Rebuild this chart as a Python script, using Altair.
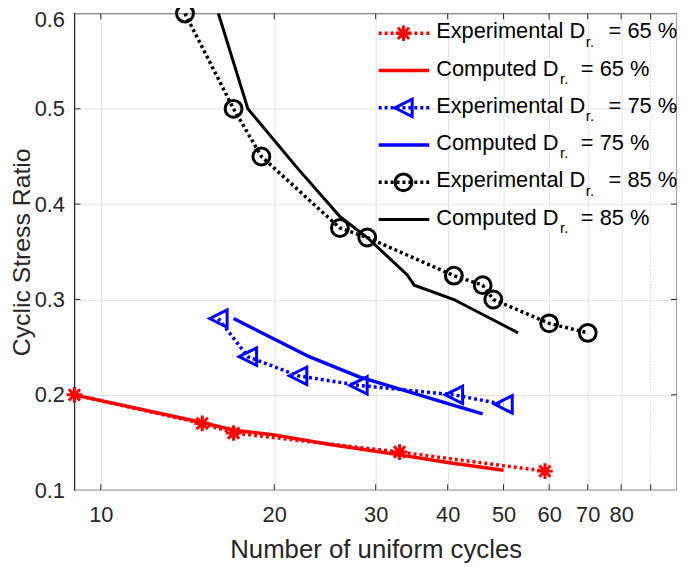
import altair as alt
import pandas as pd

# ---------------- data ----------------
exp65_n = [9, 15, 17, 33, 59]
exp65_csr = [0.20, 0.17, 0.16, 0.14, 0.12]
comp65_n = [9, 15, 17, 20, 25, 33, 40, 50]
comp65_csr = [0.200, 0.171, 0.163, 0.158, 0.148, 0.137, 0.129, 0.121]

exp75_n = [16, 18, 22, 28, 41, 50]
exp75_csr = [0.28, 0.24, 0.22, 0.21, 0.20, 0.19]
comp75_n = [17, 23, 28, 41, 46]
comp75_csr = [0.28, 0.24, 0.219, 0.189, 0.18]

exp85_n = [14, 17, 19, 26, 29, 41, 46, 48, 60, 70]
exp85_csr = [0.60, 0.50, 0.45, 0.375, 0.365, 0.325, 0.315, 0.30, 0.275, 0.265]
comp85_n = [16, 18, 22, 26, 29, 34, 35, 41, 53]
comp85_csr = [0.60, 0.50, 0.437, 0.387, 0.365, 0.326, 0.315, 0.300, 0.265]

x_ticks = [10, 20, 30, 40, 50, 60, 70, 80]
x_minor = [90]
y_ticks = [0.1, 0.2, 0.3, 0.4, 0.5, 0.6]
y_inner_ticks = [0.2, 0.3, 0.4, 0.5]

legend_main = ["Experimental D", "Computed D", "Experimental D",
               "Computed D", "Experimental D", "Computed D"]
legend_sub = "r."
legend_tail = ["= 65 %", "= 65 %", "= 75 %", "= 75 %", "= 85 %", "= 85 %"]

# ---------------- styling ----------------
FONT = "Liberation Sans"
INK = "#262626"
W, H = 608, 481
RED, BLUE, BLACK = "#ff0000", "#0000ff", "#000000"
STAR = "M0,-1L0,1M-1,0L1,0M-0.72,-0.72L0.72,0.72M-0.72,0.72L0.72,-0.72"
TRI_LEFT = "M-1,0L1,-1L1,1Z"

xscale = alt.Scale(type="log", domain=[9, 100], nice=False)
yscale = alt.Scale(domain=[0.1, 0.6], nice=False, zero=False)


def xenc(field):
    return alt.X(f"{field}:Q", scale=xscale,
                 axis=alt.Axis(values=x_ticks, format="d",
                               title="Number of uniform cycles",
                               grid=True, ticks=False, domain=False,
                               labelPadding=15, titlePadding=11))


def yenc(field):
    return alt.Y(f"{field}:Q", scale=yscale,
                 axis=alt.Axis(values=y_ticks, format=".1f",
                               title="Cyclic Stress Ratio", titleFontSize=25,
                               grid=True, ticks=False, domain=False,
                               labelPadding=10, titlePadding=0,
                               labelOffset={"condition": {"test": "datum.value >= 0.59", "value": 6},
                                            "value": 0}))


layers = []

# dotted minor grid line at 90
layers.append(alt.Chart(pd.DataFrame({"t": x_minor})).mark_rule(
    color="#c8c8c8", strokeDash=[1, 2], strokeWidth=1).encode(x=xenc("t")))

# inward tick marks on all four sides
xt = pd.DataFrame({"t": x_ticks + x_minor})
yt = pd.DataFrame({"t": y_inner_ticks})
layers.append(alt.Chart(xt).mark_rule(color=INK, strokeWidth=1).encode(
    x=xenc("t"), y=alt.value(H), y2=alt.value(H - 6)))
layers.append(alt.Chart(xt).mark_rule(color=INK, strokeWidth=1).encode(
    x=xenc("t"), y=alt.value(0), y2=alt.value(6)))
layers.append(alt.Chart(yt).mark_rule(color=INK, strokeWidth=1).encode(
    y=yenc("t"), x=alt.value(0), x2=alt.value(6)))
layers.append(alt.Chart(yt).mark_rule(color=INK, strokeWidth=1).encode(
    y=yenc("t"), x=alt.value(W), x2=alt.value(W - 6)))

series = [
    # (n, csr, color, dotted?, width, shape, size)
    (exp65_n, exp65_csr, RED, True, 3.5, STAR, 250),
    (comp65_n, comp65_csr, RED, False, 3.5, None, 0),
    (exp75_n, exp75_csr, BLUE, True, 3.5, TRI_LEFT, 310),
    (comp75_n, comp75_csr, BLUE, False, 3.5, None, 0),
    (exp85_n, exp85_csr, BLACK, True, 3.5, "circle", 290),
    (comp85_n, comp85_csr, BLACK, False, 3, None, 0),
]

for n, v, col, dotted, sw, shape, size in series:
    df = pd.DataFrame({"n": n, "csr": v})
    kw = dict(color=col, strokeWidth=sw, strokeCap="butt")
    if dotted:
        kw["strokeDash"] = [3, 3]
    layers.append(alt.Chart(df).mark_line(**kw).encode(
        x=xenc("n"), y=yenc("csr"), order=alt.Order("n:Q")))
    if shape:
        layers.append(alt.Chart(df).mark_point(
            shape=shape, size=size, filled=False, strokeWidth=3,
            color=col, opacity=1).encode(x=xenc("n"), y=yenc("csr")))

# ---------------- manual legend (subscripted D_r.) ----------------
dummy = pd.DataFrame({"k": [0]})
for i, (n, v, col, dotted, sw, shape, size) in enumerate(series):
    yi = 20 + 37.6 * i
    kw = dict(color=col, strokeWidth=sw, strokeCap="butt")
    if dotted:
        kw["strokeDash"] = [3, 3]
    layers.append(alt.Chart(dummy).mark_rule(**kw).encode(
        x=alt.value(307), x2=alt.value(358), y=alt.value(yi)))
    if shape:
        layers.append(alt.Chart(dummy).mark_point(
            shape=shape, size=size, filled=False, strokeWidth=3,
            color=col, opacity=1).encode(x=alt.value(332), y=alt.value(yi)))
    exp_row = dotted
    sub_x = 516 if exp_row else 490
    tail_x = 539 if exp_row else 511
    layers.append(alt.Chart(dummy).mark_text(
        align="left", baseline="alphabetic", fontSize=22, font=FONT,
        color="black").encode(x=alt.value(365), y=alt.value(yi + 5),
                              text=alt.value(legend_main[i])))
    layers.append(alt.Chart(dummy).mark_text(
        align="left", baseline="alphabetic", fontSize=15, font=FONT,
        color="black").encode(x=alt.value(sub_x), y=alt.value(yi + 13.5),
                              text=alt.value(legend_sub)))
    layers.append(alt.Chart(dummy).mark_text(
        align="left", baseline="alphabetic", fontSize=22, font=FONT,
        color="black").encode(x=alt.value(tail_x), y=alt.value(yi + 5),
                              text=alt.value(legend_tail[i])))

chart = alt.layer(*layers).properties(
    width=W, height=H,
    padding={"left": 67, "top": 3, "right": 0, "bottom": 75},
    autosize=alt.AutoSizeParams(type="none"),
).configure_view(
    stroke=INK, strokeWidth=1.3
).configure_axis(
    labelFont=FONT, titleFont=FONT, labelFontSize=22, titleFontSize=26,
    labelColor=INK, titleColor=INK, titleFontWeight="normal",
    gridColor="#e3e3e3", gridWidth=1
)

chart.save("out.html", embed_options={"renderer": "svg", "actions": False})
